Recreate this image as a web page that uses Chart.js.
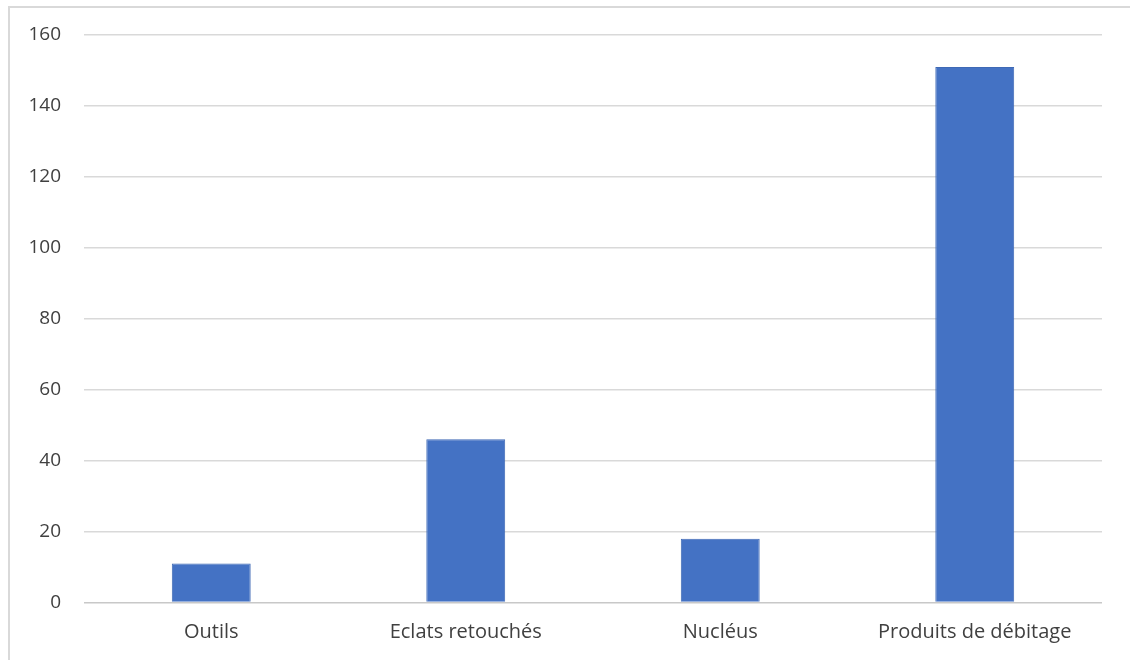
<!DOCTYPE html>
<html>
<head>
<meta charset="utf-8">
<script src="https://cdn.jsdelivr.net/npm/chart.js@4"></script>
<style>
html,body{margin:0;padding:0;background:#fff;}
#wrap{position:absolute;left:0;top:0;width:1130px;height:660px;overflow:hidden;}
#frame{position:absolute;left:8px;top:6px;width:1140px;height:680px;border:2px solid #d9d9d9;box-sizing:border-box;}
#c{position:absolute;left:0;top:0;}
</style>
</head>
<body>
<div id="wrap">
<div id="frame"></div>
<canvas id="c" width="1130" height="660"></canvas>
</div>
<script>
const categories = ["Outils", "Eclats retouchés", "Nucléus", "Produits de débitage"];
const values = [11, 46, 18, 151];
const yTicks = [0, 20, 40, 60, 80, 100, 120, 140, 160];

const FONT = "'Open Sans', 'Liberation Sans', sans-serif";

new Chart(document.getElementById('c'), {
  type: 'bar',
  data: {
    labels: categories,
    datasets: [{
      data: values,
      backgroundColor: '#4472C4',
      borderColor: '#3F69B5',
      borderWidth: 1,
      barPercentage: 0.31,
      categoryPercentage: 1.0
    }]
  },
  options: {
    responsive: false,
    animation: false,
    devicePixelRatio: 1,
    layout: { padding: { left: 0, right: 28, top: 35, bottom: 0 } },
    plugins: { legend: { display: false }, tooltip: { enabled: false } },
    scales: {
      x: {
        grid: { display: false, drawTicks: false },
        border: { display: false },
        ticks: { color: '#404040', font: { family: FONT, size: 20 }, padding: 18, maxRotation: 0 },
        afterFit: s => { s.height = 57.5; }
      },
      y: {
        min: 0, max: 160,
        afterBuildTicks: s => { s.ticks = yTicks.map(v => ({ value: v })); },
        grid: {
          color: ctx => ctx.tick && ctx.tick.value === 0 ? '#c8c8c8' : '#d9d9d9',
          lineWidth: 1.5, drawTicks: false
        },
        border: { display: false },
        ticks: { color: '#404040', font: { family: FONT, size: 19 }, padding: 23 },
        afterFit: s => { s.width = 84; }
      }
    }
  }
});
</script>
</body>
</html>
